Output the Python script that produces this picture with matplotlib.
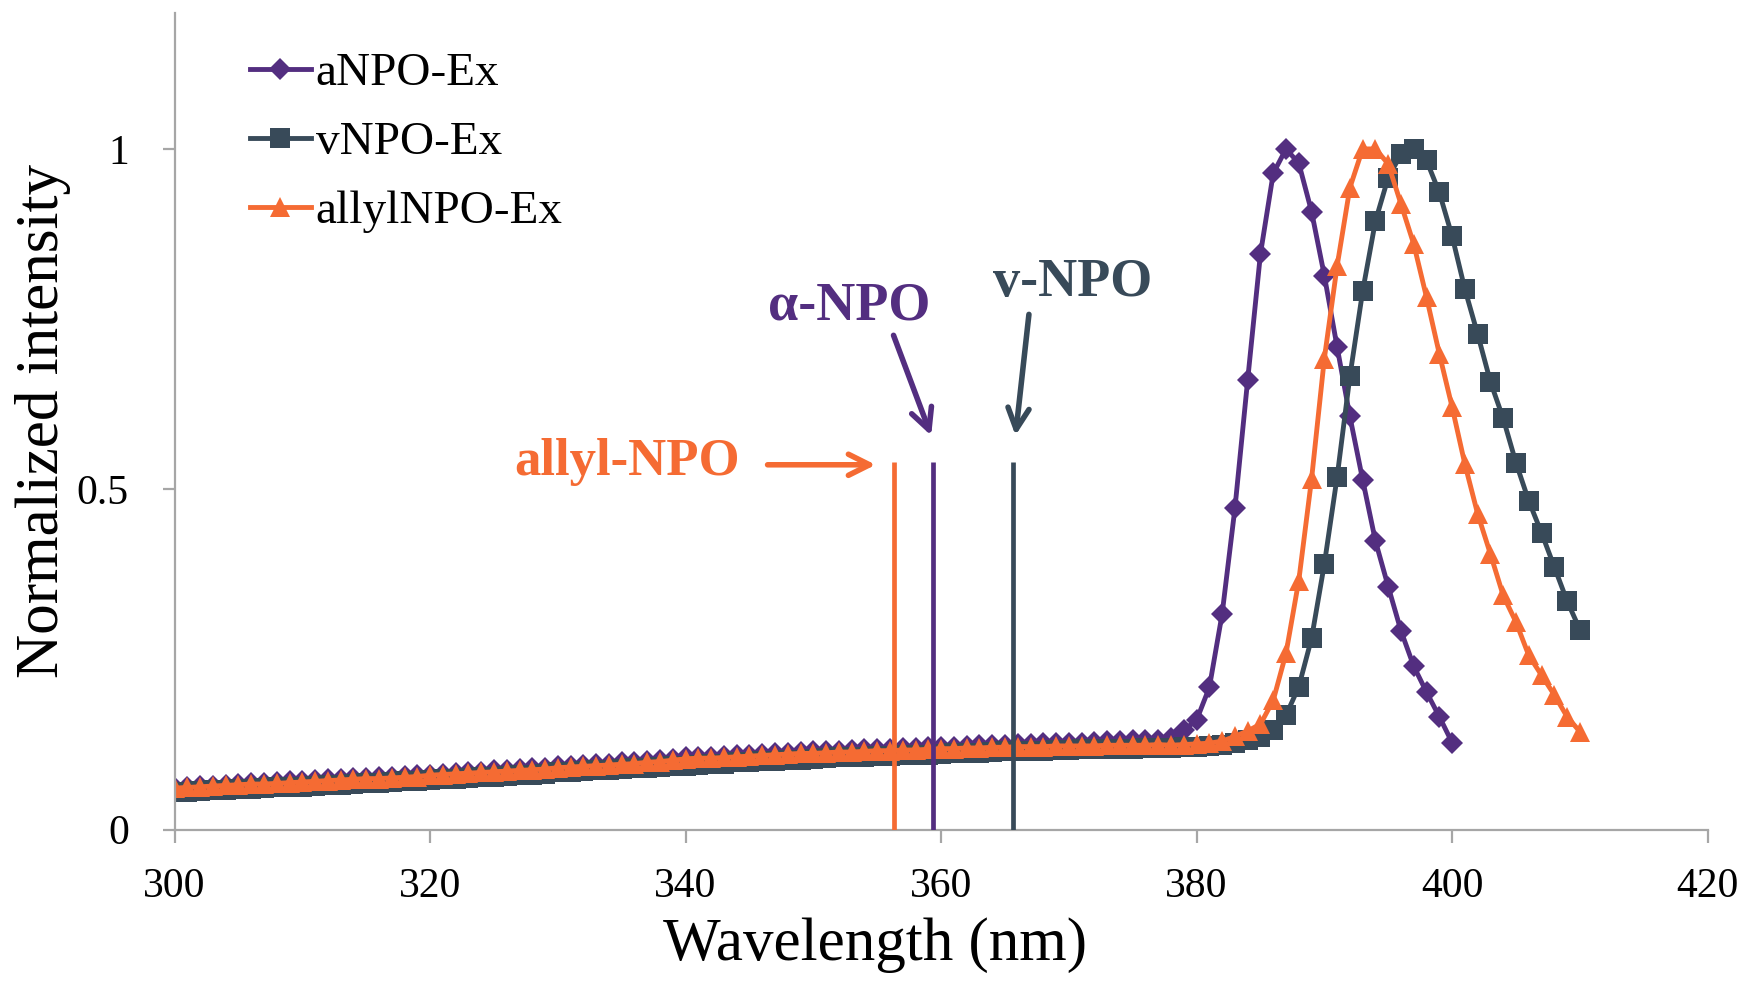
import numpy as np
import matplotlib
matplotlib.use('Agg')
import matplotlib.pyplot as plt

plt.rcParams['font.family'] = ['Liberation Serif', 'DejaVu Serif']

purple = '#532E80'
slate = '#384A59'
orange = '#F56B33'

wl_a = np.arange(300, 401)
wl_v = np.arange(300, 411)
wl_allyl = np.arange(300, 411)

# aNPO-Ex, 300..400 nm
aNPO = [
    .061, .062, .064, .064, .066, .067, .068, .069, .070, .071,
    .072, .073, .074, .075, .076, .076, .077, .078, .079, .080,
    .081, .082, .083, .085, .085, .087, .088, .089, .090, .091,
    .093, .094, .095, .096, .097, .099, .100, .101, .102, .104,
    .106, .107, .107, .108, .110, .110, .111, .112, .113, .114,
    .115, .115, .116, .117, .118, .118, .119, .120, .120, .121,
    .122, .122, .123, .124, .124, .125, .126, .126, .127, .127,
    .128, .128, .129, .130, .130, .131, .131, .132, .134, .146,
    .161, .209, .317, .472, .661, .846, .964, 1.0, .979, .908,
    .814, .709, .607, .514, .424, .357, .292, .240, .202, .166,
    .128,
]

# vNPO-Ex, 300..410 nm
vNPO = [
    .055, .056, .057, .058, .058, .059, .060, .061, .062, .063,
    .063, .064, .065, .066, .067, .068, .069, .070, .071, .072,
    .073, .074, .075, .076, .077, .078, .079, .080, .081, .082,
    .084, .085, .086, .087, .088, .089, .090, .091, .092, .093,
    .094, .095, .096, .097, .099, .100, .101, .101, .102, .103,
    .104, .105, .106, .106, .107, .108, .108, .109, .110, .110,
    .111, .112, .112, .113, .114, .115, .115, .116, .116, .117,
    .117, .118, .118, .119, .119, .119, .120, .120, .120, .121,
    .122, .123, .125, .128, .132, .136, .146, .168, .210, .281,
    .390, .518, .666, .791, .894, .958, .992, 1.0, .983, .936,
    .872, .794, .728, .658, .604, .539, .483, .436, .386, .336,
    .294,
]

# allylNPO-Ex, 300..410 nm
allylNPO = [
    .061, .062, .063, .064, .065, .066, .067, .067, .068, .069,
    .070, .071, .072, .073, .074, .075, .075, .076, .077, .078,
    .080, .081, .082, .083, .084, .085, .086, .087, .088, .089,
    .091, .092, .093, .094, .095, .096, .097, .099, .100, .102,
    .104, .105, .105, .106, .107, .108, .109, .110, .111, .112,
    .112, .113, .114, .114, .115, .116, .116, .117, .117, .118,
    .119, .119, .120, .120, .121, .121, .122, .122, .122, .123,
    .123, .123, .123, .124, .124, .124, .124, .125, .124, .125,
    .126, .127, .130, .137, .145, .155, .190, .259, .366, .515,
    .692, .828, .943, 1.0, 1.0, .978, .919, .860, .782, .699,
    .621, .537, .464, .405, .344, .305, .256, .227, .198, .166,
    .144,
]

# absorption maxima markers
marker_names = ['allyl-NPO', 'α-NPO', 'v-NPO']
marker_wl = [356.3, 359.4, 365.6]
marker_colors = [orange, purple, slate]

fig = plt.figure(figsize=(17.46, 9.83), dpi=100)
ax = fig.add_axes([0.100, 0.156, 0.878, 0.831])

ax.plot(wl_a, aNPO, color=purple, lw=3.5, marker='D', ms=11, mew=0, label='aNPO-Ex')
ax.plot(wl_v, vNPO, color=slate, lw=3.5, marker='s', ms=14.5, mew=0, label='vNPO-Ex')
ax.plot(wl_allyl, allylNPO, color=orange, lw=3.5, marker='^', ms=15, mew=0, label='allylNPO-Ex')

for x, c in zip(marker_wl, marker_colors):
    ax.plot([x, x], [0, 0.54], color=c, lw=3.4, zorder=5, solid_capstyle='butt')

arrow_kw = dict(arrowstyle='->', lw=4, mutation_scale=38)
ax.annotate('', xy=(355.1, 0.536), xytext=(346.2, 0.536),
            arrowprops=dict(color=orange, **arrow_kw))
ax.annotate('', xy=(359.3, 0.575), xytext=(356.2, 0.730),
            arrowprops=dict(color=purple, **arrow_kw))
ax.annotate('', xy=(365.8, 0.575), xytext=(366.9, 0.761),
            arrowprops=dict(color=slate, **arrow_kw))

ax.text(335.4, 0.540, marker_names[0], color=orange, fontsize=38, fontweight='bold',
        ha='center', va='center')
ax.text(352.8, 0.768, marker_names[1], color=purple, fontsize=39, fontweight='bold',
        ha='center', va='center')
ax.text(370.3, 0.803, marker_names[2], color=slate, fontsize=39, fontweight='bold',
        ha='center', va='center')

ax.set_xlim(300, 420)
ax.set_ylim(0, 1.2)
ax.set_xticks([300, 320, 340, 360, 380, 400, 420])
ax.set_yticks([0, 0.5, 1])
ax.set_yticklabels(['0', '0.5', '1'])

for s in ['top', 'right']:
    ax.spines[s].set_visible(False)
for s in ['left', 'bottom']:
    ax.spines[s].set_color('#A6A6A6')
    ax.spines[s].set_linewidth(1.6)

ax.tick_params(axis='x', direction='out', length=9, width=1.6, color='#A6A6A6',
               labelsize=30, pad=18)
ax.tick_params(axis='y', direction='out', length=9, width=1.6, color='#A6A6A6',
               labelsize=30, pad=24)

ax.set_xlabel('Wavelength (nm)', fontsize=44, labelpad=8)
ax.xaxis.label.set_x(0.457)
ax.set_ylabel('Normalized intensity', fontsize=44, labelpad=4)

ax.legend(loc='upper left', bbox_to_anchor=(0.049, 0.952), frameon=False,
          fontsize=34, handlelength=1.3, handletextpad=0.1, borderpad=0,
          borderaxespad=0, labelspacing=0.55, numpoints=1)

fig.savefig('out.png', dpi=100)
